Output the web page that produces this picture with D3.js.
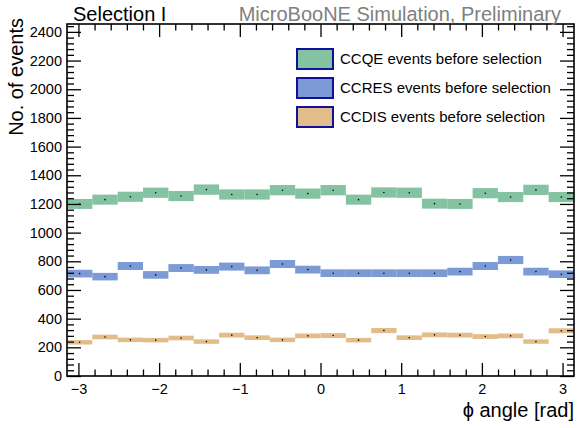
<!DOCTYPE html>
<html>
<head>
<meta charset="utf-8">
<script src="https://cdn.jsdelivr.net/npm/d3@7"></script>
<style>
  body { margin: 0; background: #ffffff; }
  svg { display: block; font-family: "Liberation Sans", Arimo, Arial, sans-serif; }
</style>
</head>
<body>
<svg id="chart" width="577" height="428"></svg>
<script>
// Event counts per phi bin (20 equal bins from -pi to pi)
const ccqeCounts  = [1200, 1230, 1250, 1278, 1255, 1300, 1266, 1266, 1296, 1272,
                     1296, 1230, 1280, 1278, 1202, 1200, 1275, 1248, 1298, 1248];
const ccresCounts = [714, 693, 767, 705, 753, 740, 763, 737, 781, 742,
                     717, 717, 717, 717, 717, 728, 767, 809, 728, 710];
const ccdisCounts = [235, 272, 252, 250, 265, 240, 285, 267, 252, 280,
                     282, 250, 317, 267, 287, 285, 275, 280, 240, 315];

const seriesLabels = ["CCQE events before selection",
                      "CCRES events before selection",
                      "CCDIS events before selection"];
const seriesColors = ["#84c3a1", "#7b9ad6", "#e2bd89"];

const xMajorTicks = [-3, -2, -1, 0, 1, 2, 3];
const yMajorTicks = [0, 200, 400, 600, 800, 1000, 1200, 1400, 1600, 1800, 2000, 2200, 2400];

const phiMin = -Math.PI, phiMax = Math.PI, yMax = 2455;

const W = 577, H = 428;
const frame = { left: 67, right: 574, top: 24, bottom: 376 };

const svg = d3.select("#chart");
svg.append("rect").attr("width", W).attr("height", H).attr("fill", "#fff");

const x = d3.scaleLinear().domain([phiMin, phiMax]).range([frame.left, frame.right]);
const y = d3.scaleLinear().domain([0, yMax]).range([frame.bottom, frame.top]);

const nBins = ccqeCounts.length;
const binW = (phiMax - phiMin) / nBins;

// Statistical bands (value +- sqrt(N)) with a marker at the bin centre
const allSeries = [ccqeCounts, ccresCounts, ccdisCounts];
allSeries.forEach((counts, si) => {
  const g = svg.append("g");
  const bins = counts.map((v, i) => ({ lo: phiMin + i * binW, hi: phiMin + (i + 1) * binW, v, err: Math.sqrt(v) }));
  g.selectAll("rect").data(bins).join("rect")
    .attr("x", d => x(d.lo))
    .attr("width", d => x(d.hi) - x(d.lo))
    .attr("y", d => y(d.v + d.err))
    .attr("height", d => y(d.v - d.err) - y(d.v + d.err))
    .attr("fill", seriesColors[si]);
  g.selectAll("circle").data(bins).join("circle")
    .attr("cx", d => x((d.lo + d.hi) / 2))
    .attr("cy", d => y(d.v))
    .attr("r", 0.8)
    .attr("fill", "#000");
});

// Axes: ROOT-style inward ticks on all four sides
const xMinor = d3.range(-3.2, 3.21, 0.2).map(v => +v.toFixed(1)).filter(v => v > phiMin && v < phiMax && !xMajorTicks.includes(v));
const yMinor = d3.range(0, yMax, 40).filter(v => v % 200 !== 0);
const fmtMinus = d => (d < 0 ? "\u2212" + Math.abs(d) : String(d));

function styleAxis(sel) {
  sel.select(".domain").remove();
  sel.selectAll("line").attr("stroke", "#000").attr("stroke-width", 1.3);
  sel.selectAll("text").attr("fill", "#000").style("font-size", "14.5px")
     .style("font-family", '"Liberation Sans", Arimo, Arial, sans-serif');
}

svg.append("g").attr("transform", `translate(0,${frame.bottom})`)
  .call(d3.axisBottom(x).tickValues(xMajorTicks).tickSize(-13).tickPadding(8).tickFormat(fmtMinus))
  .call(styleAxis);
svg.append("g").attr("transform", `translate(0,${frame.bottom})`)
  .call(d3.axisBottom(x).tickValues(xMinor).tickSize(-6.5).tickFormat(""))
  .call(styleAxis);
svg.append("g").attr("transform", `translate(0,${frame.top})`)
  .call(d3.axisTop(x).tickValues(xMajorTicks).tickSize(-13).tickFormat(""))
  .call(styleAxis);
svg.append("g").attr("transform", `translate(0,${frame.top})`)
  .call(d3.axisTop(x).tickValues(xMinor).tickSize(-6.5).tickFormat(""))
  .call(styleAxis);

svg.append("g").attr("transform", `translate(${frame.left},0)`)
  .call(d3.axisLeft(y).tickValues(yMajorTicks).tickSize(-14).tickPadding(5).tickFormat(d3.format("d")))
  .call(styleAxis);
svg.append("g").attr("transform", `translate(${frame.left},0)`)
  .call(d3.axisLeft(y).tickValues(yMinor).tickSize(-7).tickFormat(""))
  .call(styleAxis);
svg.append("g").attr("transform", `translate(${frame.right},0)`)
  .call(d3.axisRight(y).tickValues(yMajorTicks).tickSize(-14).tickFormat(""))
  .call(styleAxis);
svg.append("g").attr("transform", `translate(${frame.right},0)`)
  .call(d3.axisRight(y).tickValues(yMinor).tickSize(-7).tickFormat(""))
  .call(styleAxis);

// Frame
svg.append("rect")
  .attr("x", frame.left).attr("y", frame.top)
  .attr("width", frame.right - frame.left).attr("height", frame.bottom - frame.top)
  .attr("fill", "none").attr("stroke", "#000").attr("stroke-width", 1.6);

// Axis titles
svg.append("text").attr("x", frame.right).attr("y", 417)
  .attr("text-anchor", "end").style("font-size", "20px").attr("fill", "#000")
  .text("\u03d5 angle [rad]");
svg.append("text")
  .attr("transform", `translate(23,${frame.top - 6}) rotate(-90)`)
  .attr("text-anchor", "end").style("font-size", "20px").attr("fill", "#000")
  .text("No. of events");

// Header texts
svg.append("text").attr("x", 73).attr("y", 21)
  .style("font-size", "20px").attr("fill", "#000").text("Selection I");
svg.append("text").attr("x", 561).attr("y", 21).attr("text-anchor", "end")
  .style("font-size", "20px").attr("fill", "#808080").text("MicroBooNE Simulation, Preliminary");

// Legend
const legendRows = [59, 88, 117];
const lg = svg.append("g");
seriesLabels.forEach((label, i) => {
  lg.append("rect").attr("x", 297).attr("y", legendRows[i] - 10)
    .attr("width", 36).attr("height", 20)
    .attr("fill", seriesColors[i]).attr("stroke", "#10109a").attr("stroke-width", 2);
  lg.append("text").attr("x", 340).attr("y", legendRows[i] + 5)
    .style("font-size", "15px").attr("fill", "#000").text(label);
});
</script>
</body>
</html>
